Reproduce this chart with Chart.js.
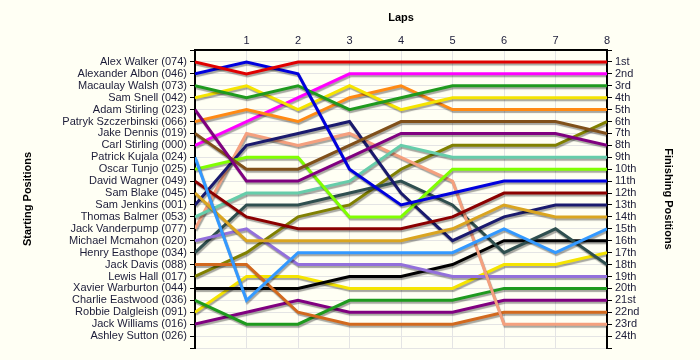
<!DOCTYPE html>
<html>
<head>
<meta charset="utf-8">
<script src="https://cdn.jsdelivr.net/npm/chart.js@4.4.1/dist/chart.umd.min.js"></script>
<style>
  body { margin: 0; background: #fffff4; }
  canvas { display: block; }
</style>
</head>
<body>
<canvas id="lapChart" width="700" height="360"></canvas>
<script>
'use strict';

// laps on the top axis
const laps = [0, 1, 2, 3, 4, 5, 6, 7, 8];

// drivers in starting order
const drivers = [
    'Alex Walker (074)', 'Alexander Albon (046)', 'Macaulay Walsh (073)', 'Sam Snell (042)',
    'Adam Stirling (023)', 'Patryk Szczerbinski (066)', 'Jake Dennis (019)', 'Carl Stirling (000)',
    'Patrick Kujala (024)', 'Oscar Tunjo (025)', 'David Wagner (049)', 'Sam Blake (045)',
    'Sam Jenkins (001)', 'Thomas Balmer (053)', 'Jack Vanderpump (077)', 'Michael Mcmahon (020)',
    'Henry Easthope (034)', 'Jack Davis (088)', 'Lewis Hall (017)', 'Xavier Warburton (044)',
    'Charlie Eastwood (036)', 'Robbie Dalgleish (091)', 'Jack Williams (016)', 'Ashley Sutton (026)'
];

// finishing position labels (right axis)
const finishLabels = [
    '1st', '2nd', '3rd', '4th', '5th', '6th', '7th', '8th', '9th', '10th', '11th', '12th',
    '13th', '14th', '15th', '16th', '17th', '18th', '19th', '20th', '21st', '22nd', '23rd', '24th'
];

// position of each driver at the end of each lap (same order as drivers)
const lapPositions = [
    [1, 2, 1, 1, 1, 1, 1, 1, 1],
    [2, 1, 2, 10, 13, 12, 11, 11, 11],
    [3, 4, 3, 5, 4, 3, 3, 3, 3],
    [4, 3, 5, 3, 5, 4, 4, 4, 4],
    [5, 11, 11, 9, 7, 7, 7, 7, 8],
    [6, 5, 6, 4, 3, 5, 5, 5, 5],
    [7, 10, 10, 8, 6, 6, 6, 6, 7],
    [8, 6, 4, 2, 2, 2, 2, 2, 2],
    [9, 21, 17, 17, 17, 17, 15, 17, 15],
    [10, 9, 9, 14, 14, 10, 10, 10, 10],
    [11, 14, 15, 15, 15, 14, 12, 12, 12],
    [12, 16, 16, 16, 16, 15, 13, 14, 14],
    [13, 8, 7, 6, 12, 16, 14, 13, 13],
    [14, 12, 12, 11, 8, 9, 9, 9, 9],
    [15, 7, 8, 7, 9, 11, 23, 23, 23],
    [16, 15, 18, 18, 18, 19, 19, 19, 19],
    [17, 13, 13, 12, 11, 13, 17, 15, 18],
    [18, 18, 22, 23, 23, 23, 22, 22, 22],
    [19, 17, 14, 13, 10, 8, 8, 8, 6],
    [20, 20, 20, 19, 19, 18, 16, 16, 16],
    [21, 23, 23, 21, 21, 21, 20, 20, 20],
    [22, 19, 19, 20, 20, 20, 18, 18, 17],
    [23, 22, 21, 22, 22, 22, 21, 21, 21],
    []
];

const lineColors = [
    '#e00000', '#0000dd', '#1e9a1e', '#f5e400', '#800080', '#ff8a14', '#80501a', '#ff00ff',
    '#3399ff', '#80ff00', '#8b0000', '#daa520', '#1a1a6e', '#66cdaa', '#f5a07e', '#9370db',
    '#2f4f4f', '#d2691e', '#808000', '#000000', '#1e9a1e', '#f5e400', '#800080', '#999999'
];

const labelFont = { family: 'Liberation Sans', size: 11 };
const titleFont = { family: 'Liberation Sans', size: 11, weight: 'bold' };
const textColor = '#1c1c38';

const datasets = drivers.map(function(name, i) {
    return {
        label: name,
        data: lapPositions[i].map(function(pos, lap) { return { x: laps[lap], y: pos }; }),
        borderColor: lineColors[i],
        backgroundColor: lineColors[i],
        borderWidth: 3,
        pointRadius: 0,
        tension: 0,
        fill: false,
        yAxisID: 'y'
    };
});

// soft drop shadow under the lines
const shadowPlugin = {
    id: 'shadow',
    beforeDatasetsDraw(chart) {
        const ctx = chart.ctx;
        ctx.save();
        ctx.shadowColor = 'rgba(0, 0, 0, 0.35)';
        ctx.shadowOffsetX = 1;
        ctx.shadowOffsetY = 2;
        ctx.shadowBlur = 1;
    },
    afterDatasetsDraw(chart) {
        chart.ctx.restore();
    }
};

const bgPlugin = {
    id: 'bg',
    beforeDraw(chart) {
        const ctx = chart.ctx;
        ctx.save();
        ctx.fillStyle = '#fffff4';
        ctx.fillRect(0, 0, chart.width, chart.height);
        ctx.restore();
    }
};

const canvas = document.getElementById('lapChart');
const lapChart = new Chart(canvas, {
    type: 'line',
    data: { datasets: datasets },
    plugins: [bgPlugin, shadowPlugin],
    options: {
        responsive: false,
        animation: false,
        layout: { padding: { left: 0, right: 0, top: 0, bottom: 12 } },
        plugins: {
            legend: { display: false },
            tooltip: { enabled: false }
        },
        scales: {
            x: {
                type: 'linear',
                position: 'top',
                min: 0,
                max: 8,
                afterFit: function(scale) { scale.height = 50; },
                ticks: {
                    stepSize: 1,
                    padding: 1,
                    color: textColor,
                    font: labelFont,
                    callback: function(v) { return v === 0 ? '' : v; }
                },
                grid: { color: '#e4e4e4', tickColor: 'rgba(0,0,0,0)', tickLength: 1 },
                border: { color: '#000', width: 2 },
                title: { display: true, text: 'Laps', color: '#000', font: titleFont, padding: { top: 11, bottom: 0 } }
            },
            y: {
                type: 'linear',
                position: 'left',
                reverse: true,
                min: 0,
                max: 25,
                afterFit: function(scale) { scale.width = 195; },
                ticks: {
                    stepSize: 1,
                    autoSkip: false,
                    padding: 3,
                    color: textColor,
                    font: labelFont,
                    callback: function(v) { return drivers[v - 1] || ''; }
                },
                grid: { color: '#e4e4e4', tickColor: '#000', tickLength: 5 },
                border: { color: '#000', width: 2 },
                title: { display: true, text: 'Starting Positions', color: '#000', font: titleFont, padding: { top: 21, bottom: 0 } }
            },
            y2: {
                type: 'linear',
                position: 'right',
                reverse: true,
                min: 0,
                max: 25,
                afterFit: function(scale) { scale.width = 93; },
                ticks: {
                    stepSize: 1,
                    autoSkip: false,
                    padding: 3,
                    color: textColor,
                    font: labelFont,
                    callback: function(v) { return finishLabels[v - 1] || ''; }
                },
                grid: { drawOnChartArea: false, tickColor: '#000', tickLength: 5 },
                border: { color: '#000', width: 2 },
                title: { display: true, text: 'Finishing Positions', color: '#000', font: titleFont, padding: { top: 25, bottom: 0 } }
            }
        }
    }
});
</script>
</body>
</html>
